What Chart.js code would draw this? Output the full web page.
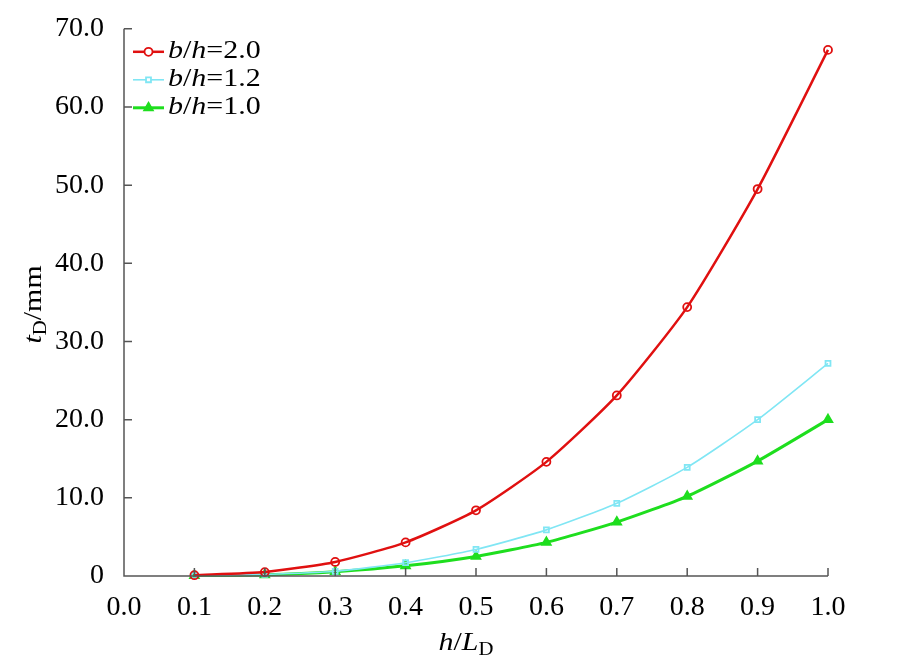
<!DOCTYPE html>
<html>
<head>
<meta charset="utf-8">
<script src="https://cdn.jsdelivr.net/npm/chart.js@4/dist/chart.umd.min.js"></script>
<style>
  html,body{margin:0;padding:0;background:#fff;}
  #wrap{width:905px;height:668px;}
</style>
</head>
<body>
<div id="wrap"><canvas id="grafico" width="905" height="668"></canvas></div>
<script>
const hL = [0.1,0.2,0.3,0.4,0.5,0.6,0.7,0.8,0.9,1.0];
const bh20 = [0.1,0.5,1.8,4.3,8.4,14.6,23.1,34.4,49.5,67.3];
const bh12 = [0.05,0.2,0.6,1.7,3.4,5.9,9.3,13.9,20.0,27.2];
const bh10 = [0.05,0.15,0.55,1.3,2.5,4.3,6.9,10.2,14.7,20.0];
const xTicks = [0,0.1,0.2,0.3,0.4,0.5,0.6,0.7,0.8,0.9,1.0];
const yTicks = [0,10,20,30,40,50,60,70];

const serif = '"Liberation Serif","DejaVu Serif",serif';

const series = [
  {label:'2.0', data:bh20, color:'#e01010', width:2.5, style:'circle', radius:4, fill:false},
  {label:'1.2', data:bh12, color:'#80e6f4', width:1.6, style:'rect', radius:3.5, fill:false},
  {label:'1.0', data:bh10, color:'#1ede1e', width:3, style:'triangle', radius:5, fill:true}
];

function pts(arr){ return hL.map((x,i)=>({x, y:arr[i]})); }

// writes a run of [text, font, dy] parts starting at x, stretched a bit wider like the source
function runText(ctx, parts, x, y, sx){
  ctx.save();
  ctx.translate(x, y);
  ctx.scale(sx, 1);
  let cx = 0;
  parts.forEach(p=>{
    ctx.font = p[1]+' '+serif;
    ctx.fillText(p[0], cx, p[2]||0);
    cx += ctx.measureText(p[0]).width;
  });
  ctx.restore();
  return cx*sx;
}
function runWidth(ctx, parts, sx){
  let w = 0;
  parts.forEach(p=>{ ctx.font = p[1]+' '+serif; w += ctx.measureText(p[0]).width; });
  return w*sx;
}

// inward tick marks + custom legend + axis titles
const deco = {
  id:'deco',
  afterDraw(c){
    const ctx = c.ctx, xs = c.scales.x, ys = c.scales.y, a = c.chartArea;
    ctx.save();
    ctx.strokeStyle = '#555';
    ctx.lineWidth = 1.5;
    ctx.beginPath();
    ctx.moveTo(a.left, a.top); ctx.lineTo(a.left, a.bottom); ctx.lineTo(a.right, a.bottom);
    xTicks.forEach(v=>{
      const px = xs.getPixelForValue(v);
      ctx.moveTo(px, a.bottom); ctx.lineTo(px, a.bottom-8);
    });
    yTicks.forEach(v=>{
      const py = ys.getPixelForValue(v);
      ctx.moveTo(a.left, py); ctx.lineTo(a.left+8, py);
    });
    ctx.stroke();

    // legend
    ctx.textBaseline = 'middle';
    series.forEach((s,i)=>{
      const y = a.top + 23 + i*28;
      ctx.strokeStyle = s.color;
      ctx.lineWidth = s.width;
      ctx.beginPath(); ctx.moveTo(133, y); ctx.lineTo(164, y); ctx.stroke();
      ctx.lineWidth = 1.8;
      ctx.fillStyle = s.fill ? s.color : '#fff';
      Chart.helpers.drawPoint(ctx, {pointStyle:s.style, radius:s.radius, borderWidth:1.8}, 148.5, y);
      ctx.fillStyle = '#000';
      runText(ctx, [['b','italic 25px'],['/','25px'],['h','italic 25px'],['='+s.label,'25px']], 168, y, 1.2);
    });

    // x title
    ctx.fillStyle = '#000';
    ctx.textBaseline = 'alphabetic';
    const xp = [['h','italic 26px'],['/','26px'],['L','italic 26px'],['D','18px',5]];
    let w = runWidth(ctx, xp, 1.15);
    runText(ctx, xp, 466 - w/2, 650, 1.15);

    // y title
    ctx.translate(41, (a.top+a.bottom)/2 + 2);
    ctx.rotate(-Math.PI/2);
    const yp = [['t','italic 26px'],['D','18px',5],['/mm','26px']];
    w = runWidth(ctx, yp, 1.15);
    runText(ctx, yp, -w/2, 0, 1.15);
    ctx.restore();
  }
};

const chart = new Chart(grafico, {
  type:'line',
  data:{
    datasets: series.map(s=>({
      data: pts(s.data),
      borderColor: s.color,
      backgroundColor: s.fill ? s.color : 'rgba(0,0,0,0)',
      borderWidth: s.width,
      pointStyle: s.style,
      pointRadius: s.radius,
      pointBorderWidth: 1.8,
      pointBorderColor: s.color,
      pointBackgroundColor: s.fill ? s.color : 'rgba(0,0,0,0)',
      tension: 0.2,
      clip: false
    }))
  },
  options:{
    responsive:false,
    animation:false,
    events:[],
    layout:{padding:{top:28, right:77, left:0, bottom:0}},
    plugins:{legend:{display:false}, tooltip:{enabled:false}},
    scales:{
      x:{
        type:'linear', min:0, max:1,
        afterBuildTicks: s=>{ s.ticks = xTicks.map(v=>({value:v})); },
        afterFit: s=>{ s.height = 92; },
        grid:{display:false},
        border:{display:false},
        ticks:{
          color:'#000', padding:7, maxRotation:0, autoSkip:false,
          font:{family:serif, size:28},
          callback: v=>Number(v).toFixed(1)
        }
      },
      y:{
        min:0, max:70,
        afterBuildTicks: s=>{ s.ticks = yTicks.map(v=>({value:v})); },
        afterFit: s=>{ s.width = 124; },
        grid:{display:false},
        border:{display:false},
        ticks:{
          color:'#000', padding:12,
          font:{family:serif, size:28},
          callback: v=> v===0 ? '0' : Number(v).toFixed(1)
        }
      }
    }
  },
  plugins:[deco]
});
</script>
</body>
</html>
